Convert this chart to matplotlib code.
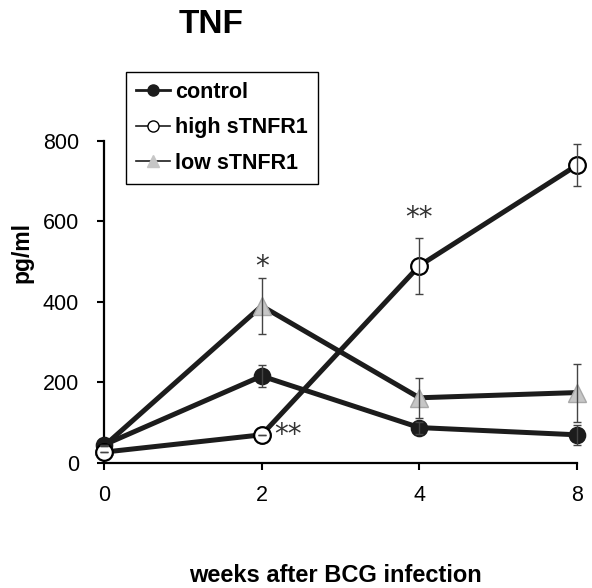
import matplotlib.pyplot as plt
from matplotlib.lines import Line2D

plt.rcParams['font.family'] = ['Liberation Sans', 'DejaVu Sans']

# data (pg/ml, mean and upper/lower error)
weeks = ['0', '2', '4', '8']
control = [45, 216, 88, 70]
control_err = [0, 27, 15, 25]
high_stnfr1 = [27, 70, 490, 740]
high_err = [0, 0, 70, 53]
low_stnfr1 = [42, 390, 162, 175]
low_err = [0, 70, 50, 72]
y_ticks = [0, 200, 400, 600, 800]

# significance marks: (week index, y value, text)
stars = [(1, 487, '*'), (2, 608, '**'), (1, 70, '**')]

line_col = '#1c1c1c'
gray = '#c6c6c6'

fig = plt.figure(figsize=(5.92, 5.88), dpi=100)
ax = fig.add_axes([0.1757, 0.2126, 0.799, 0.5476])
xs = list(range(len(weeks)))

ax.plot(xs, low_stnfr1, '-', color=line_col, lw=3.6, marker='^', ms=13,
        mfc=gray, mec='#a8a8a8', mew=1, zorder=3, clip_on=False)
ax.plot(xs, control, '-', color=line_col, lw=3.6, marker='o', ms=11.5,
        mfc=line_col, mec=line_col, mew=1.2, zorder=4, clip_on=False)
ax.plot(xs, high_stnfr1, '-', color=line_col, lw=3.6, marker='o', ms=12,
        mfc='white', mec='black', mew=1.6, zorder=5, clip_on=False)

for vals, err in [(control, control_err), (high_stnfr1, high_err), (low_stnfr1, low_err)]:
    ax.errorbar(xs, vals, yerr=err, fmt='none', ecolor='#444444', elinewidth=1,
                capsize=3, capthick=1, zorder=6, clip_on=False)

for i, y, s in stars:
    if s == '**' and y < 100:
        ax.text(i + 0.08, y, s, fontsize=20, ha='left', va='center',
                color='#333333', family='DejaVu Sans')
    else:
        ax.text(i, y, s, fontsize=20, ha='center', va='center',
                color='#333333', family='DejaVu Sans')

ax.set_xlim(0, 3)
ax.set_ylim(0, 800)
ax.set_xticks(xs)
ax.set_xticklabels(weeks)
ax.set_yticks(y_ticks)
ax.tick_params(axis='both', labelsize=15.5, width=1.5, length=5, color='black')
ax.tick_params(axis='y', pad=13)
ax.tick_params(axis='x', pad=11)
for side in ['top', 'right']:
    ax.spines[side].set_visible(False)
for side in ['left', 'bottom']:
    ax.spines[side].set_linewidth(1.6)

handles = [
    Line2D([], [], color=line_col, lw=2, marker='o', ms=8, mfc=line_col, mec=line_col),
    Line2D([], [], color=line_col, lw=1.2, marker='o', ms=8, mfc='white', mec='black'),
    Line2D([], [], color=line_col, lw=1.2, marker='^', ms=9, mfc=gray, mec=gray),
]
leg = fig.legend(handles, ['control', 'high sTNFR1', 'low sTNFR1'],
                 loc='upper left', bbox_to_anchor=(0.2128, 0.8776),
                 bbox_transform=fig.transFigure, borderaxespad=0,
                 prop={'weight': 'bold', 'size': 15.5}, fancybox=False,
                 edgecolor='black', framealpha=1, handlelength=1.6,
                 handletextpad=0.25, labelspacing=0.68, borderpad=0.45)
leg.get_frame().set_linewidth(1)

fig.text(0.356, 0.944, 'TNF', fontsize=24, fontweight='bold', ha='center', va='baseline')
fig.text(0.566, 0.0102, 'weeks after BCG infection', fontsize=17, fontweight='bold',
         ha='center', va='baseline')
fig.text(0.037, 0.571, 'pg/ml', fontsize=16.5, fontweight='bold', rotation=90,
         ha='center', va='center')

fig.savefig('out.png', dpi=100)
